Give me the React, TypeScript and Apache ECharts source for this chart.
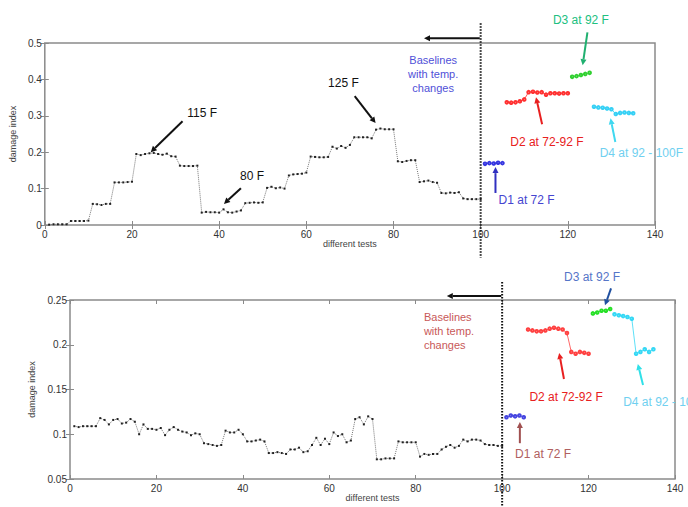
import React, { useEffect, useRef } from "react";
import * as echarts from "echarts";

// ---------- data ----------
const topBaselineX = Array.from({ length: 100 }, (_, i) => i + 1);
const topBaseline = [
  0.001, 0.002, 0.002, 0.002, 0.002,
  0.011, 0.011, 0.011, 0.011, 0.012,
  0.058, 0.057, 0.055, 0.058, 0.058,
  0.117, 0.117, 0.117, 0.118, 0.119,
  0.195, 0.192, 0.195, 0.197, 0.198,
  0.195, 0.193, 0.196, 0.189, 0.188,
  0.163, 0.162, 0.162, 0.162, 0.163,
  0.034, 0.036, 0.035, 0.035, 0.034,
  0.043, 0.035, 0.034, 0.037, 0.040,
  0.060, 0.061, 0.062, 0.061, 0.062,
  0.102, 0.105, 0.101, 0.103, 0.100,
  0.136, 0.139, 0.140, 0.141, 0.144,
  0.188, 0.187, 0.186, 0.186, 0.187,
  0.215, 0.210, 0.217, 0.212, 0.220,
  0.241, 0.241, 0.241, 0.241, 0.238,
  0.262, 0.265, 0.263, 0.263, 0.263,
  0.175, 0.173, 0.176, 0.178, 0.178,
  0.118, 0.120, 0.122, 0.118, 0.116,
  0.088, 0.087, 0.089, 0.088, 0.090,
  0.073, 0.071, 0.071, 0.071, 0.071,
];
const topD1X = [101, 102, 103, 104, 105];
const topD1 = [0.168, 0.170, 0.169, 0.171, 0.170];
const topD2X = [106, 107, 108, 109, 110, 111, 112, 113, 114, 115, 116, 117, 118, 119, 120];
const topD2 = [0.337, 0.336, 0.337, 0.340, 0.345, 0.365, 0.366, 0.364, 0.365, 0.358, 0.362, 0.362, 0.361, 0.362, 0.362];
const topD3X = [121, 122, 123, 124, 125];
const topD3 = [0.407, 0.409, 0.412, 0.415, 0.418];
const topD4X = [126, 127, 128, 129, 130, 131, 132, 133, 134, 135];
const topD4 = [0.325, 0.323, 0.322, 0.320, 0.318, 0.305, 0.308, 0.309, 0.308, 0.307];

const botBaselineX = Array.from({ length: 100 }, (_, i) => i + 1);
const botBaseline = [
  0.109, 0.108, 0.109, 0.109, 0.109, 0.109, 0.118, 0.116, 0.111, 0.116,
  0.117, 0.112, 0.113, 0.117, 0.114, 0.100, 0.111, 0.106, 0.106, 0.105,
  0.107, 0.099, 0.105, 0.108, 0.105, 0.103, 0.102, 0.099, 0.101, 0.100,
  0.090, 0.089, 0.088, 0.087, 0.088, 0.104, 0.102, 0.102, 0.105, 0.100,
  0.092, 0.092, 0.093, 0.094, 0.092, 0.079, 0.079, 0.080, 0.079, 0.078,
  0.083, 0.083, 0.085, 0.080, 0.081, 0.088, 0.096, 0.088, 0.095, 0.089,
  0.102, 0.098, 0.100, 0.091, 0.093, 0.117, 0.119, 0.111, 0.120, 0.117,
  0.072, 0.072, 0.073, 0.073, 0.073, 0.092, 0.091, 0.091, 0.091, 0.091,
  0.075, 0.078, 0.077, 0.078, 0.078, 0.083, 0.086, 0.088, 0.085, 0.087,
  0.094, 0.092, 0.094, 0.094, 0.093, 0.089, 0.088, 0.088, 0.087, 0.087,
];
const botD1X = [101, 102, 103, 104, 105];
const botD1 = [0.119, 0.121, 0.120, 0.121, 0.119];
const botD2X = [106, 107, 108, 109, 110, 111, 112, 113, 114, 115, 116, 117, 118, 119, 120];
const botD2 = [0.217, 0.216, 0.215, 0.215, 0.216, 0.218, 0.219, 0.218, 0.217, 0.213, 0.192, 0.190, 0.192, 0.191, 0.190];
const botD3X = [121, 122, 123, 124, 125];
const botD3 = [0.235, 0.236, 0.238, 0.238, 0.240];
const botD4X = [126, 127, 128, 129, 130, 131, 132, 133, 134, 135];
const botD4 = [0.234, 0.233, 0.232, 0.231, 0.229, 0.190, 0.192, 0.195, 0.192, 0.195];

const xTicks = [0, 20, 40, 60, 80, 100, 120, 140];
const topYTicks = [0, 0.1, 0.2, 0.3, 0.4, 0.5];
const botYTicks = [0.05, 0.1, 0.15, 0.2, 0.25];

// annotations in data coordinates
type Txt = { plot: number; text: string; x: number; y: number; color: string; align: string; size: number };
const texts: Txt[] = [
  { plot: 0, text: "115 F", x: 32.7, y: 0.307, color: "#111", align: "left", size: 12 },
  { plot: 0, text: "80 F", x: 44.8, y: 0.134, color: "#111", align: "left", size: 12 },
  { plot: 0, text: "125 F", x: 65, y: 0.389, color: "#111", align: "left", size: 12 },
  { plot: 0, text: "Baselines\nwith temp.\nchanges", x: 89.1, y: 0.414, color: "#5050d8", align: "center", size: 11 },
  { plot: 0, text: "D3 at 92 F", x: 123, y: 0.562, color: "#20c080", align: "center", size: 12 },
  { plot: 0, text: "D2 at 72-92 F", x: 115.2, y: 0.228, color: "#e82020", align: "center", size: 12 },
  { plot: 0, text: "D4 at 92 - 100F", x: 127.3, y: 0.197, color: "#70d0f0", align: "left", size: 12 },
  { plot: 0, text: "D1 at 72 F", x: 104.1, y: 0.069, color: "#4545d0", align: "left", size: 12 },
  { plot: 1, text: "D3 at 92 F", x: 120.8, y: 0.2757, color: "#5575c8", align: "center", size: 12 },
  { plot: 1, text: "Baselines\nwith temp.\nchanges", x: 81.9, y: 0.2154, color: "#c85858", align: "left", size: 11 },
  { plot: 1, text: "D2 at 72-92 F", x: 114.8, y: 0.1416, color: "#e82020", align: "center", size: 12 },
  { plot: 1, text: "D4 at 92 - 100F", x: 128, y: 0.136, color: "#70d0f0", align: "left", size: 12 },
  { plot: 1, text: "D1 at 72 F", x: 103, y: 0.0779, color: "#b06060", align: "left", size: 12 },
];
type Arr = { plot: number; x1: number; y1: number; x2: number; y2: number; color: string };
const arrows: Arr[] = [
  { plot: 0, x1: 31.6, y1: 0.285, x2: 24.3, y2: 0.2, color: "#111" },
  { plot: 0, x1: 45, y1: 0.101, x2: 41.1, y2: 0.058, color: "#111" },
  { plot: 0, x1: 71.1, y1: 0.354, x2: 75.9, y2: 0.28, color: "#111" },
  { plot: 0, x1: 99.8, y1: 0.513, x2: 87, y2: 0.513, color: "#111" },
  { plot: 0, x1: 124.5, y1: 0.529, x2: 123.4, y2: 0.439, color: "#20b070" },
  { plot: 0, x1: 114.1, y1: 0.277, x2: 112.7, y2: 0.351, color: "#e82020" },
  { plot: 0, x1: 130.9, y1: 0.228, x2: 129.8, y2: 0.293, color: "#40d8f0" },
  { plot: 0, x1: 103.4, y1: 0.088, x2: 103.4, y2: 0.159, color: "#3030c0" },
  { plot: 1, x1: 125.2, y1: 0.263, x2: 123.8, y2: 0.244, color: "#2050a0" },
  { plot: 1, x1: 99.8, y1: 0.2545, x2: 87.2, y2: 0.2545, color: "#111" },
  { plot: 1, x1: 114.3, y1: 0.1617, x2: 113.2, y2: 0.1908, color: "#e82020" },
  { plot: 1, x1: 132.6, y1: 0.155, x2: 131.4, y2: 0.1785, color: "#30e0e8" },
  { plot: 1, x1: 104.1, y1: 0.09, x2: 104.1, y2: 0.1137, color: "#a05050" },
];
const dividers = [
  { plot: 0, x: 100, y1: 0.554, y2: -0.09 },
  { plot: 1, x: 100, y1: 0.27, y2: 0.0187 },
];

const pair = (xs: number[], ys: number[]) => xs.map((x, i) => [x, ys[i]]);

const AXIS_COLOR = "#8a8a8a";
const LABEL = { color: "#333", fontSize: 10, fontFamily: "Liberation Sans, Arial, sans-serif" };

function fmt(v: number) {
  return String(parseFloat(v.toFixed(2)));
}

function buildAxes() {
  const xa: any[] = [];
  const ya: any[] = [];
  const yDefs = [
    { min: topYTicks[0], max: topYTicks[topYTicks.length - 1], interval: 0.1, gap: 21 },
    { min: botYTicks[0], max: botYTicks[botYTicks.length - 1], interval: 0.05, gap: 30 },
  ];
  [0, 1].forEach((g) => {
    const common = {
      type: "value",
      gridIndex: g,
      min: xTicks[0],
      max: xTicks[xTicks.length - 1],
      interval: 20,
      splitLine: { show: false },
      axisLine: { show: false },
      axisTick: { show: true, inside: true, length: 4, lineStyle: { color: AXIS_COLOR } },
    };
    xa.push({
      ...common,
      position: "bottom",
      name: "different tests",
      nameLocation: "middle",
      nameGap: g === 0 ? 12 : 14,
      nameTextStyle: { ...LABEL, fontSize: 9, color: "#444" },
      axisLabel: { ...LABEL, margin: 4 },
    });
    xa.push({ ...common, position: "top", axisLabel: { show: false } });
    const yc = {
      type: "value",
      gridIndex: g,
      min: yDefs[g].min,
      max: yDefs[g].max,
      interval: yDefs[g].interval,
      splitLine: { show: false },
      axisLine: { show: false },
      axisTick: { show: true, inside: true, length: 4, lineStyle: { color: AXIS_COLOR } },
    };
    ya.push({
      ...yc,
      position: "left",
      name: "damage index",
      nameLocation: "middle",
      nameGap: yDefs[g].gap,
      nameTextStyle: { ...LABEL, fontSize: 9, color: "#444" },
      axisLabel: { ...LABEL, margin: 3, formatter: fmt },
    });
    ya.push({ ...yc, position: "right", axisLabel: { show: false } });
  });
  return { xa, ya };
}

function baselineSeries(xi: number, yi: number, data: number[][]) {
  return {
    type: "line",
    xAxisIndex: xi,
    yAxisIndex: yi,
    data,
    symbol: "rect",
    symbolSize: 2,
    itemStyle: { color: "#222" },
    lineStyle: { color: "#777", width: 1, type: "dotted" },
    silent: true,
  };
}
function colorSeries(xi: number, yi: number, data: number[][], color: string) {
  return {
    type: "line",
    xAxisIndex: xi,
    yAxisIndex: yi,
    data,
    symbol: "emptyCircle",
    symbolSize: 2.6,
    itemStyle: { color, borderWidth: 0.6 },
    lineStyle: { color, width: 0.8 },
    silent: true,
  };
}

export default function App() {
  const ref = useRef<HTMLDivElement>(null);
  useEffect(() => {
    if (!ref.current) return;
    const chart = echarts.init(ref.current, null, { renderer: "svg" });
    const { xa, ya } = buildAxes();
    chart.setOption({
      animation: false,
      backgroundColor: "#fff",
      grid: [
        { left: 39, top: 43, width: 616, height: 182, show: true, borderColor: AXIS_COLOR, borderWidth: 1.5, backgroundColor: "transparent" },
        { left: 70, top: 300, width: 605, height: 179, show: true, borderColor: AXIS_COLOR, borderWidth: 1.5, backgroundColor: "transparent" },
      ],
      xAxis: xa,
      yAxis: ya,
      series: [
        baselineSeries(0, 0, pair(topBaselineX, topBaseline)),
        colorSeries(0, 0, pair(topD1X, topD1), "#3535e0"),
        colorSeries(0, 0, pair(topD2X, topD2), "#ff3030"),
        colorSeries(0, 0, pair(topD3X, topD3), "#30d030"),
        colorSeries(0, 0, pair(topD4X, topD4), "#35d0f5"),
        baselineSeries(2, 2, pair(botBaselineX, botBaseline)),
        colorSeries(2, 2, pair(botD1X, botD1), "#4545e0"),
        colorSeries(2, 2, pair(botD2X, botD2), "#ff4040"),
        colorSeries(2, 2, pair(botD3X, botD3), "#25e025"),
        colorSeries(2, 2, pair(botD4X, botD4), "#35d8f5"),
      ],
    });

    const toPx = (plot: number, x: number, y: number) =>
      chart.convertToPixel({ xAxisIndex: plot * 2, yAxisIndex: plot * 2 }, [x, y]) as number[];

    const g: any[] = [];
    dividers.forEach((d) => {
      const a = toPx(d.plot, d.x, d.y1);
      const b = toPx(d.plot, d.x, d.y2);
      g.push({
        type: "line",
        shape: { x1: a[0], y1: a[1], x2: b[0], y2: b[1] },
        style: { stroke: "#111", lineWidth: 2, lineDash: [1.5, 1.5] },
        z: 100,
      });
    });
    arrows.forEach((ar) => {
      const a = toPx(ar.plot, ar.x1, ar.y1);
      const b = toPx(ar.plot, ar.x2, ar.y2);
      const dx = b[0] - a[0];
      const dy = b[1] - a[1];
      const len = Math.sqrt(dx * dx + dy * dy) || 1;
      const ux = dx / len;
      const uy = dy / len;
      const hl = 6;
      const hw = 3;
      const bx = b[0] - ux * hl;
      const by = b[1] - uy * hl;
      g.push({
        type: "line",
        shape: { x1: a[0], y1: a[1], x2: bx, y2: by },
        style: { stroke: ar.color, lineWidth: 2 },
        z: 100,
      });
      g.push({
        type: "polygon",
        shape: {
          points: [
            [b[0], b[1]],
            [bx - uy * hw, by + ux * hw],
            [bx + uy * hw, by - ux * hw],
          ],
        },
        style: { fill: ar.color },
        z: 100,
      });
    });
    texts.forEach((t) => {
      const p = toPx(t.plot, t.x, t.y);
      g.push({
        type: "text",
        x: p[0],
        y: p[1],
        style: {
          text: t.text,
          fill: t.color,
          font: `${t.size}px "Liberation Sans", Arial, sans-serif`,
          align: t.align,
          verticalAlign: "middle",
          lineHeight: 14,
        },
        z: 100,
      });
    });
    chart.setOption({ graphic: g });
    return () => chart.dispose();
  }, []);
  return (
    <div
      ref={ref}
      style={{ position: "absolute", left: 0, top: 0, width: 688, height: 507, background: "#fff" }}
    />
  );
}
